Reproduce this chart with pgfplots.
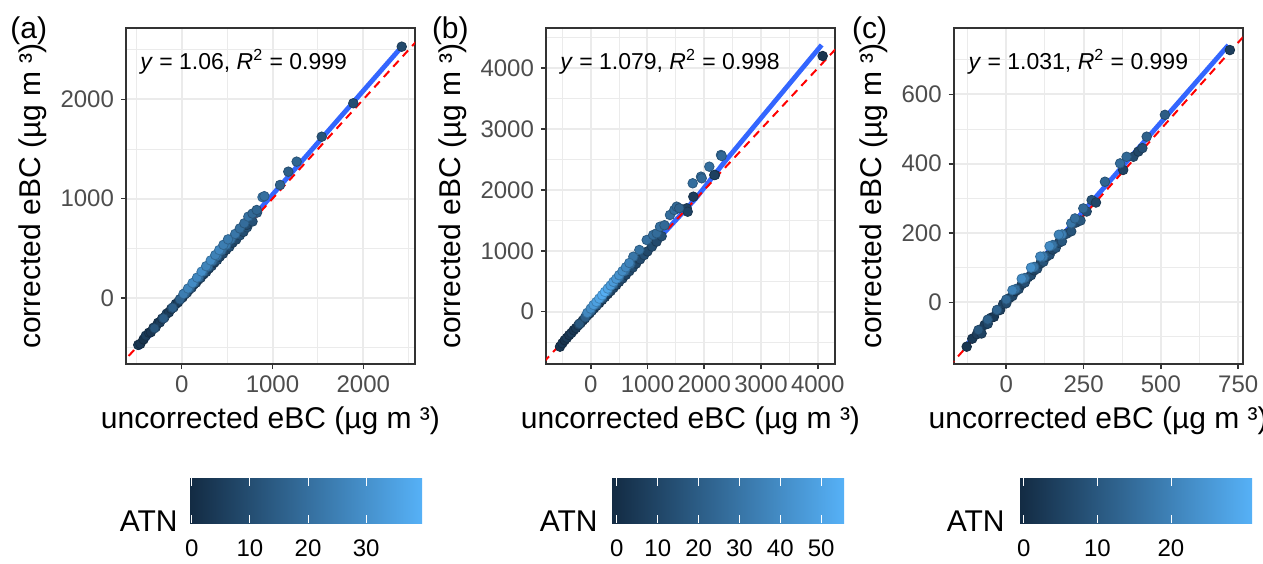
\documentclass[border=0pt]{standalone}
\usepackage{pgfplots}
\usepackage{pgfplotstable}
\pgfplotsset{compat=1.18}
\usepackage{fontspec}
\setmainfont{Liberation Sans}
\definecolor{grey20}{HTML}{333333}
\definecolor{grey30}{HTML}{4D4D4D}
\definecolor{gridc}{HTML}{EBEBEB}
\definecolor{fitblue}{HTML}{3366FF}
\definecolor{cblow}{HTML}{132B43}
\definecolor{cbhigh}{HTML}{56B1F7}
\pgfplotsset{
  colormap={ggblue}{rgb255=(19,43,67) rgb255=(86,177,247)},
  panel/.style={
    scale only axis, width=144.5pt, height=168pt, anchor=south west,
    colormap name=ggblue,
    axis line style={color=grey20, line width=0.8pt},
    tick align=outside, xtick pos=lower, ytick pos=left,
    major tick length=2.5pt, minor tick length=0pt,
    tick style={color=grey20, line width=0.8pt},
    grid=both,
    major grid style={color=gridc, line width=1pt},
    minor grid style={color=gridc, line width=0.5pt},
    /pgf/number format/assume math mode=true,
    /pgf/number format/1000 sep={},
    ticklabel style={font=\fontsize{12}{14}\selectfont, color=grey30},
    label style={font=\fontsize{15}{18}\selectfont},
    xlabel={uncorrected eBC (µg m ³)},
    ylabel={corrected eBC (µg m ³)},
  },
  cbar/.style={
    scale only axis, width=116pt, height=22.5pt, anchor=south west,
    ymin=0, ymax=1, ytick=\empty, axis line style={draw=none},
    axis on top, tick align=inside, xtick pos=both, xticklabel pos=lower,
    major tick length=4pt, tick style={color=white, line width=0.5pt},
    /pgf/number format/assume math mode=true,
    xticklabel style={font=\fontsize{12}{14}\selectfont, color=black, yshift=-5pt},
  },
  pts/.style={scatter, only marks, mark=*, mark size=2.4pt, point meta=explicit},
  fit/.style={fitblue, line width=2.4pt, no marks},
  one/.style={red, line width=1pt, dash pattern=on 4pt off 3pt, no marks},
}
\pgfplotstableread{
x y atn
-478 -473 4
-455 -462 3
-420 -418 2
-395 -380 5
-360 -350 4
-340 -345 3
-310 -300 5
-285 -292 6
-260 -250 4
-240 -246 5
-215 -208 6
-190 -195 3
-165 -158 7
-140 -145 5
-115 -110 6
-90 -95 4
-65 -60 7
-40 -44 5
-15 -12 6
10 6 4
35 38 5
60 55 7
85 86 6
110 104 8
135 138 5
160 155 7
185 186 6
210 204 9
240 238 6
270 262 8
300 297 7
330 322 9
360 356 6
390 382 10
420 416 8
455 446 9
490 485 7
525 515 10
560 556 8
600 588 9
640 630 11
680 665 10
720 712 12
716 735 9
780 770 11
830 860 14
-300 -305 12
-200 -205 14
-100 -98 15
-20 -15 16
40 50 18
90 100 17
140 155 19
190 208 20
240 262 18
290 315 21
340 370 19
390 423 22
440 478 20
490 535 23
540 590 21
590 645 22
640 700 20
690 752 19
734 819 21
780 850 18
826 886 17
890 1015 22
910 1025 20
1083 1138 16
1174 1272 15
1266 1373 17
1542 1624 12
1890 1961 10
2423 2531 9
20 40 24
70 95 26
120 150 28
170 205 27
220 265 29
270 320 26
320 378 28
370 432 25
414 483 27
460 535 24
510 590 23
}\dataA
\pgfplotstableread{
x y atn
-541 -575 3
-500 -520 4
-460 -470 2
-420 -430 5
-380 -385 3
-340 -350 6
-300 -305 4
-260 -270 5
-220 -225 7
-180 -190 4
-140 -145 6
-100 -110 5
-60 -62 8
-20 -28 6
20 15 5
60 55 7
100 95 9
150 140 6
200 192 8
250 240 10
300 290 7
350 338 9
400 388 11
450 438 8
500 490 10
560 545 12
620 605 9
680 665 11
740 725 13
800 790 10
870 860 12
940 930 14
1000 990 11
1080 1070 13
1160 1150 12
1250 1240 14
1692 1699 8
1709 1643 9
1808 1890 7
2190 2247 6
2178 2246 8
4088 4202 3
-200 -200 18
-100 -95 20
0 10 22
100 115 24
200 225 23
300 335 26
400 445 25
500 555 27
600 665 28
700 780 26
751 904 30
857 1014 29
987 1178 28
1100 1260 27
1163 1288 26
1221 1397 28
1300 1420 25
1397 1589 27
1473 1671 26
1515 1726 25
1560 1700 22
1797 2110 27
1944 2219 26
1956 2192 25
2090 2383 27
2296 2575 26
2308 2559 25
-60 -20 38
0 50 40
50 110 45
100 160 48
150 215 50
200 270 52
250 325 54
300 380 50
350 430 47
400 490 46
450 540 44
500 600 42
560 665 40
620 730 38
680 800 36
}\dataB
\pgfplotstableread{
x y atn
-128 -128 2
-110 -105 3
-95 -92 4
-85 -80 3
-80 -90 5
-70 -65 4
-60 -62 6
-50 -45 5
-40 -42 3
-30 -25 6
-20 -22 4
-10 -5 5
0 -3 7
10 12 5
20 18 6
30 32 4
40 38 7
50 52 5
60 57 8
70 72 6
80 78 7
90 92 5
100 97 8
110 112 6
120 117 9
130 132 7
140 137 8
150 152 6
160 157 9
170 172 7
180 176 10
195 198 8
210 205 9
225 230 7
240 236 10
260 262 8
276 295 9
290 288 6
378 382 5
411 420 7
427 435 6
440 445 8
723 728 4
-90 -80 10
-60 -50 12
-30 -22 13
0 8 14
30 38 15
60 70 16
90 102 17
120 132 18
150 165 16
180 196 19
210 228 17
222 242 15
249 271 14
319 348 13
368 401 15
389 420 14
454 478 12
513 541 11
20 35 20
50 68 22
80 100 23
110 132 21
140 162 22
170 195 20
}\dataC
\begin{document}
\begin{tikzpicture}
\useasboundingbox (0,0) rectangle (631.5pt,281.5pt);
% ---------- panel (a)
\begin{axis}[panel, at={(63pt,99.5pt)},
  xmin=-613, xmax=2569, ymin=-665, ymax=2719,
  xtick={0,1000,2000}, minor xtick={-500,500,1500,2500},
  ytick={0,1000,2000}, minor ytick={-500,500,1500,2500},
  point meta min=-0.3, point meta max=39.6]
\addplot[pts] table[x=x,y=y,meta=atn] {\dataA};
\addplot[fit] coordinates {(-478,-507) (2423,2530)};
\addplot[one] coordinates {(-1000,-1000) (5000,5000)};
\node[anchor=west, inner sep=0pt, font=\fontsize{11.5}{13}\selectfont] at (rel axis cs:0.048,0.899) {\textit{y} = 1.06, \textit{R}\textsuperscript{2} = 0.999};
\end{axis}
% ---------- panel (b)
\begin{axis}[panel, at={(273pt,99.5pt)},
  xmin=-788, xmax=4305, ymin=-860, ymax=4662,
  xtick={0,1000,2000,3000,4000}, minor xtick={-500,500,1500,2500,3500},
  ytick={0,1000,2000,3000,4000}, minor ytick={-500,500,1500,2500,3500,4500},
  point meta min=-1.2, point meta max=55.6]
\addplot[pts] table[x=x,y=y,meta=atn] {\dataB};
\addplot[fit] coordinates {(-553,-575) (1850,1860) (2340,2440) (4070,4383)};
\addplot[one] coordinates {(-1000,-1000) (5000,5000)};
\node[anchor=west, inner sep=0pt, font=\fontsize{11.5}{13}\selectfont] at (rel axis cs:0.048,0.899) {\textit{y} = 1.079, \textit{R}\textsuperscript{2} = 0.998};
\end{axis}
% ---------- panel (c)
\begin{axis}[panel, at={(476.85pt,99.5pt)},
  xmin=-170, xmax=764.5, ymin=-178, ymax=791.6,
  xtick={0,250,500,750}, minor xtick={-125,125,375,625},
  ytick={0,200,400,600}, minor ytick={-100,100,300,500,700},
  point meta min=-0.5, point meta max=31]
\addplot[pts] table[x=x,y=y,meta=atn] {\dataC};
\addplot[fit] coordinates {(-128,-123) (718,742)};
\addplot[one] coordinates {(-1000,-1000) (5000,5000)};
\node[anchor=west, inner sep=0pt, font=\fontsize{11.5}{13}\selectfont] at (rel axis cs:0.05,0.899) {\textit{y} = 1.031, \textit{R}\textsuperscript{2} = 0.999};
\end{axis}
% ---------- colour bars
\begin{axis}[cbar, at={(95pt,20pt)}, xmin=-0.3, xmax=39.6, xtick={0,10,20,30}]
\fill[left color=cblow, right color=cbhigh] (rel axis cs:0,0) rectangle (rel axis cs:1,1);
\end{axis}
\begin{axis}[cbar, at={(306pt,20pt)}, xmin=-1.2, xmax=55.6, xtick={0,10,20,30,40,50}]
\fill[left color=cblow, right color=cbhigh] (rel axis cs:0,0) rectangle (rel axis cs:1,1);
\end{axis}
\begin{axis}[cbar, at={(510pt,20pt)}, xmin=-0.5, xmax=31, xtick={0,10,20}]
\fill[left color=cblow, right color=cbhigh] (rel axis cs:0,0) rectangle (rel axis cs:1,1);
\end{axis}
\node[anchor=base east, font=\fontsize{15}{18}\selectfont, inner sep=0pt] at (89pt,16pt) {ATN};
\node[anchor=base east, font=\fontsize{15}{18}\selectfont, inner sep=0pt] at (299pt,16pt) {ATN};
\node[anchor=base east, font=\fontsize{15}{18}\selectfont, inner sep=0pt] at (502.5pt,16pt) {ATN};
% ---------- panel tags
\node[anchor=base west, font=\fontsize{15}{18}\selectfont, inner sep=0pt] at (5pt,262pt) {(a)};
\node[anchor=base west, font=\fontsize{15}{18}\selectfont, inner sep=0pt] at (215.8pt,262pt) {(b)};
\node[anchor=base west, font=\fontsize{15}{18}\selectfont, inner sep=0pt] at (425.8pt,262pt) {(c)};
\end{tikzpicture}
\end{document}
